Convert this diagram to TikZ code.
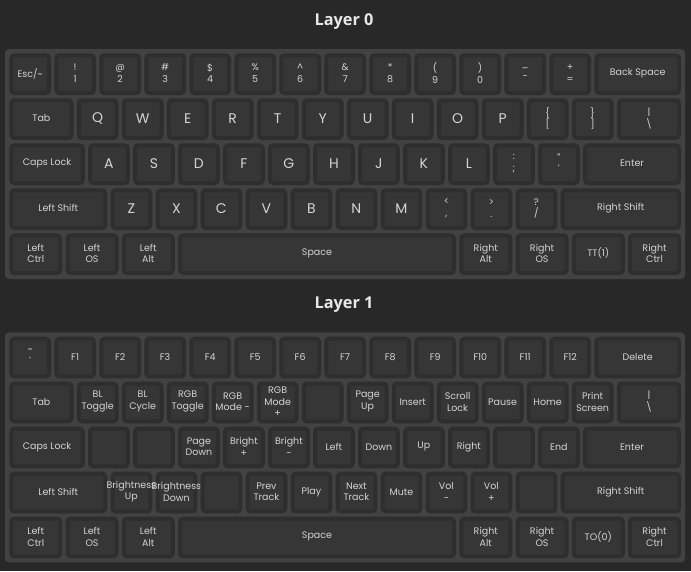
\documentclass[tikz,border=0pt]{standalone}
\usepackage{fontspec}
\setmainfont{Poppins}
\newfontfamily\titlefont{Open Sans}
\usepackage{tikz}
\usetikzlibrary{positioning}
\definecolor{kbback}{RGB}{40,40,40}
\definecolor{kbpanel}{RGB}{66,66,66}
\definecolor{kbrim}{RGB}{46,46,46}
\definecolor{kbtop}{RGB}{54,54,54}
\definecolor{kbtext}{RGB}{212,212,212}
\definecolor{kbtitle}{RGB}{232,232,232}
\newcommand{\kbltr}[1]{{\fontsize{14}{16}\selectfont #1}}
% one row of keys: name prefix, top edge, list of width/label
\newcommand{\kbrow}[3]{%
  \gdef\kx{0}%
  \foreach \w/\t [count=\i] in {#3}{
    \node[keycap,minimum width={45*\w-7.3}] (#1-\i) at ({9.3+45*\kx+(45*\w-3.3)/2},{#2+20.85}) {};
    \node[keytext] (#1-\i-t) at ([yshift=0.8pt]#1-\i.center) {\t};
    \pgfmathparse{\kx+\w}\xdef\kx{\pgfmathresult}
  }}

\begin{document}
\begin{tikzpicture}[x=1pt,y=-1pt,
  keycap/.style={draw=kbrim,fill=kbtop,line width=4pt,rounded corners=3pt,
    minimum height=37.7pt,inner sep=0pt,outer sep=0pt},
  keytext/.style={text=kbtext,align=center,inner sep=0pt,
    font=\fontsize{9.5}{11.7}\selectfont},
  panel/.style={fill=kbpanel,rounded corners=4pt},
  layertitle/.style={text=kbtitle,font=\titlefont\bfseries\fontsize{16.3}{19}\selectfont}]
\fill[kbback] (0,0) rectangle (691,571);
\useasboundingbox (0,0) rectangle (691,571);

% Layer 0
\node[layertitle] (title0) at (344,22) {Layer 0};
\fill[panel] (5,49) rectangle (685,279);
\kbrow{a1}{53.3}{1/{Esc/\textasciitilde}, 1/{!\\1}, 1/{@\\2}, 1/{\#\\3}, 1/{\$\\4},
  1/{\%\\5}, 1/{\textasciicircum\\6}, 1/{\&\\7}, 1/{*\\8}, 1/{(\\9}, 1/{)\\0},
  1/{\_\\-}, 1/{+\\=}, 2/{Back Space}}
\kbrow{a2}{98.3}{1.5/Tab, 1/\kbltr{Q}, 1/\kbltr{W}, 1/\kbltr{E}, 1/\kbltr{R},
  1/\kbltr{T}, 1/\kbltr{Y}, 1/\kbltr{U}, 1/\kbltr{I}, 1/\kbltr{O}, 1/\kbltr{P},
  1/{\{\\{}[}, 1/{\}\\{}]}, 1.5/{|\\\textbackslash}}
\kbrow{a3}{143.3}{1.75/{Caps Lock}, 1/\kbltr{A}, 1/\kbltr{S}, 1/\kbltr{D},
  1/\kbltr{F}, 1/\kbltr{G}, 1/\kbltr{H}, 1/\kbltr{J}, 1/\kbltr{K}, 1/\kbltr{L},
  1/{:\\;}, 1/{"\\\textquotesingle}, 2.25/Enter}
\kbrow{a4}{188.3}{2.25/{Left Shift}, 1/\kbltr{Z}, 1/\kbltr{X}, 1/\kbltr{C},
  1/\kbltr{V}, 1/\kbltr{B}, 1/\kbltr{N}, 1/\kbltr{M}, 1/{<\\,}, 1/{>\\.},
  1/{?\\/}, 2.75/{Right Shift}}
\kbrow{a5}{233.3}{1.25/{Left\\Ctrl}, 1.25/{Left\\OS}, 1.25/{Left\\Alt},
  6.25/Space, 1.25/{Right\\Alt}, 1.25/{Right\\OS}, 1.25/{TT(1)},
  1.25/{Right\\Ctrl}}

% Layer 1
\node[layertitle] (title1) at (344,305) {Layer 1};
\fill[panel] (5,332.4) rectangle (685,562.4);
\kbrow{b1}{336.7}{1/{\textasciitilde\\\textasciigrave}, 1/F1, 1/F2, 1/F3, 1/F4,
  1/F5, 1/F6, 1/F7, 1/F8, 1/F9, 1/F10, 1/F11, 1/F12, 2/Delete}
\kbrow{b2}{381.7}{1.5/Tab, 1/{BL\\Toggle}, 1/{BL\\Cycle}, 1/{RGB\\Toggle},
  1/{RGB\\Mode -}, 1/{RGB\\Mode\\+}, 1/{}, 1/{Page\\Up}, 1/Insert,
  1/{Scroll\\Lock}, 1/Pause, 1/Home, 1/{Print\\Screen}, 1.5/{|\\\textbackslash}}
\kbrow{b3}{426.7}{1.75/{Caps Lock}, 1/{}, 1/{}, 1/{Page\\Down}, 1/{Bright\\+},
  1/{Bright\\-}, 1/Left, 1/Down, 1/Up, 1/Right, 1/{}, 1/End, 2.25/Enter}
\kbrow{b4}{471.7}{2.25/{Left Shift}, 1/{Brightness\\Up}, 1/{Brightness\\Down},
  1/{}, 1/{Prev\\Track}, 1/Play, 1/{Next\\Track}, 1/Mute, 1/{Vol\\-},
  1/{Vol\\+}, 1/{}, 2.75/{Right Shift}}
\kbrow{b5}{516.7}{1.25/{Left\\Ctrl}, 1.25/{Left\\OS}, 1.25/{Left\\Alt},
  6.25/Space, 1.25/{Right\\Alt}, 1.25/{Right\\OS}, 1.25/{TO(0)},
  1.25/{Right\\Ctrl}}
\end{tikzpicture}
\end{document}
